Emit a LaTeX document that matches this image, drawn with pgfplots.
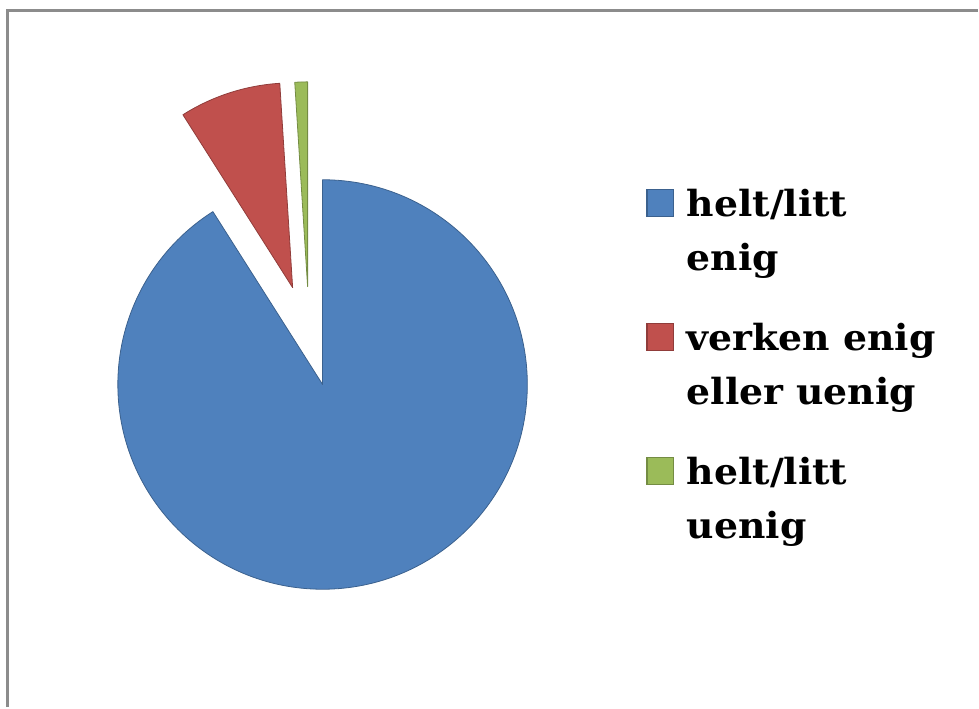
\documentclass[border=0pt]{standalone}
\usepackage{fontspec}
\setmainfont{DejaVu Serif}[FakeStretch=1.05]
\usepackage{pgfplots}
\usepackage{pgfplotstable}
\pgfplotsset{compat=1.18}
\definecolor{pieblue}{HTML}{4F81BD}
\definecolor{piered}{HTML}{C0504D}
\definecolor{piegreen}{HTML}{9BBB59}
\definecolor{framegray}{HTML}{8C8C8C}

% share in percent; dx, dy = explosion offset (pixels of the 979x708 canvas)
\pgfplotstableread{
share dx dy
91.0 0 0
8.0 -30 97
1.0 -15 98
}\piedata

\pgfplotstablegetelem{0}{share}\of\piedata \let\sA\pgfplotsretval
\pgfplotstablegetelem{1}{share}\of\piedata \let\sB\pgfplotsretval
\pgfplotstablegetelem{2}{share}\of\piedata \let\sC\pgfplotsretval
\pgfplotstablegetelem{1}{dx}\of\piedata \let\dxB\pgfplotsretval
\pgfplotstablegetelem{1}{dy}\of\piedata \let\dyB\pgfplotsretval
\pgfplotstablegetelem{2}{dx}\of\piedata \let\dxC\pgfplotsretval
\pgfplotstablegetelem{2}{dy}\of\piedata \let\dyC\pgfplotsretval

\pgfmathsetmacro\angA{90}
\pgfmathsetmacro\angB{\angA-3.6*\sA}
\pgfmathsetmacro\angC{\angB-3.6*\sB}
\pgfmathsetmacro\angD{\angC-3.6*\sC}
\pgfmathsetmacro\cxB{323+\dxB}
\pgfmathsetmacro\cyB{323+\dyB}
\pgfmathsetmacro\cxC{323+\dxC}
\pgfmathsetmacro\cyC{323+\dyC}
\def\R{153.75pt}

\begin{document}
\begin{tikzpicture}
\begin{axis}[
  x=0.75pt, y=0.75pt,
  xmin=0, xmax=979, ymin=0, ymax=708,
  hide axis, clip=false,
  legend image code/.code={\draw[#1, line width=0.8pt] (0pt,0pt) rectangle (20pt,20pt);},
  legend style={draw=none, fill=none, inner sep=0pt,
    at={(axis cs:647,532)}, anchor=north west,
    font=\bfseries\fontsize{27}{40.5}\selectfont,
    row sep=66.75pt, column sep=7.5pt,
    cells={anchor=base west, inner sep=0pt}},
]
\path (axis cs:0,0) rectangle (axis cs:979,708);
\addplot[framegray, line width=1.9pt, forget plot] coordinates {(7.5,0) (7.5,697.5) (979,697.5)};

\fill[pieblue, draw=pieblue!75!black, line width=0.6pt, line join=round]
  (axis cs:323,323) -- ++(\angA:\R) arc[start angle=\angA, end angle=\angB, radius=\R] -- cycle;
\fill[piered, draw=piered!75!black, line width=0.6pt, line join=round]
  (axis cs:\cxB,\cyB) -- ++(\angB:\R) arc[start angle=\angB, end angle=\angC, radius=\R] -- cycle;
\fill[piegreen, draw=piegreen!75!black, line width=0.6pt, line join=round]
  (axis cs:\cxC,\cyC) -- ++(\angC:\R) arc[start angle=\angC, end angle=\angD, radius=\R] -- cycle;

\addlegendimage{fill=pieblue, draw=pieblue!75!black}
\addlegendentry{\begin{tabular}[t]{@{}l@{}}helt/litt\\enig\end{tabular}}
\addlegendimage{fill=piered, draw=piered!75!black}
\addlegendentry{\begin{tabular}[t]{@{}l@{}}verken enig\\eller uenig\end{tabular}}
\addlegendimage{fill=piegreen, draw=piegreen!75!black}
\addlegendentry{\begin{tabular}[t]{@{}l@{}}helt/litt\\uenig\end{tabular}}
\end{axis}
\end{tikzpicture}
\end{document}
